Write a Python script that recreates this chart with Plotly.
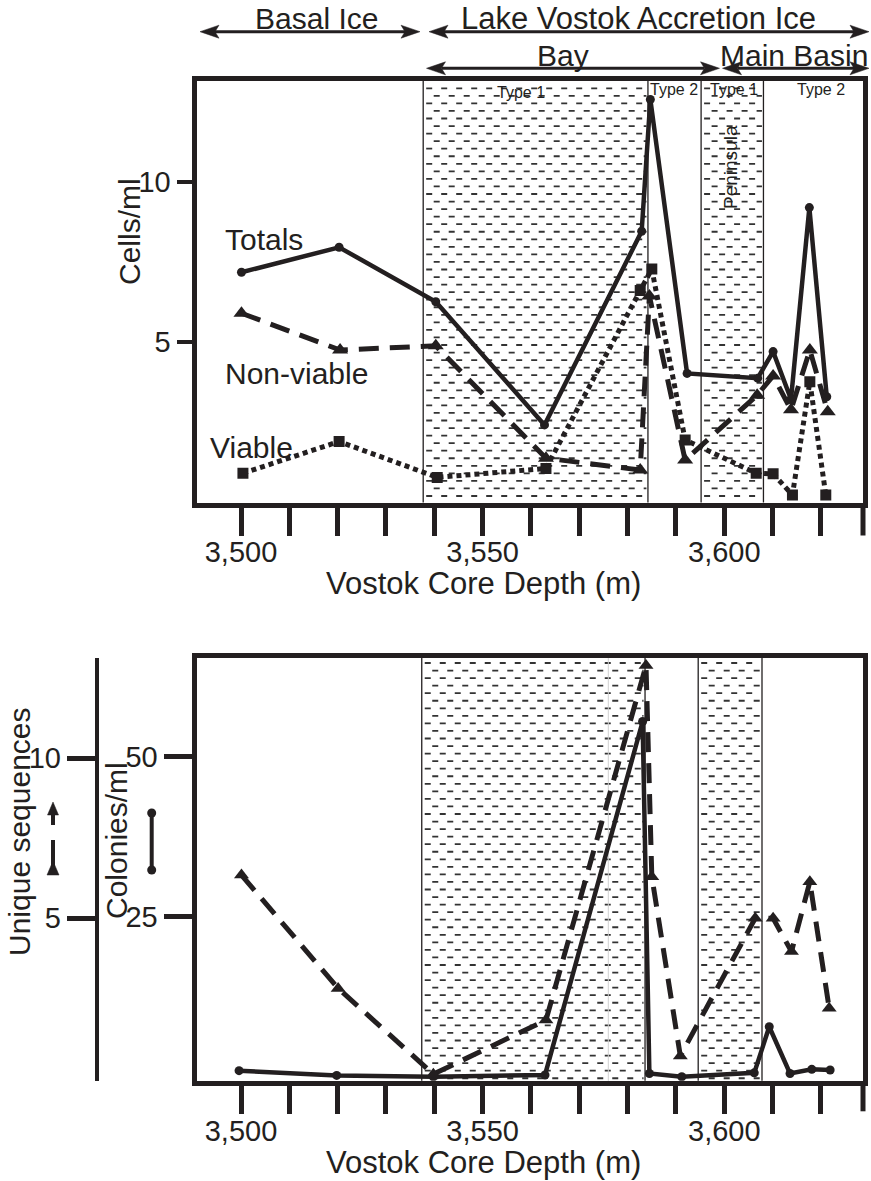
import plotly.graph_objects as go

W, H = 871, 1181
FONT = "Liberation Sans, Arial, Helvetica, sans-serif"
INK = "#231f20"

# ---------------- data ----------------
# Upper panel: cells/ml
totals_depth = [3500.1, 3520.3, 3540.3, 3562.8, 3582.9, 3584.7, 3592.3, 3606.9, 3610.1, 3613.8, 3617.6, 3621.2]
totals = [7.17, 7.95, 6.25, 2.40, 8.45, 12.57, 4.01, 3.86, 4.69, 3.20, 9.19, 3.28]

nonviable_depth = [3500.1, 3520.5, 3540.3, 3563.1, 3582.6, 3584.5, 3591.9, 3606.8, 3610.1, 3613.8, 3617.7, 3621.4]
nonviable = [5.89, 4.74, 4.87, 1.36, 0.99, 6.43, 1.30, 3.33, 3.93, 2.87, 4.74, 2.81]

viable_depth = [3500.4, 3520.3, 3540.6, 3563.1, 3582.6, 3585.0, 3591.9, 3606.6, 3610.1, 3614.1, 3617.7, 3621.0]
viable = [0.89, 1.88, 0.76, 1.04, 6.60, 7.27, 1.93, 0.89, 0.87, 0.21, 3.75, 0.21]

# Lower panel: colonies/ml and unique sequences
colonies_depth = [3499.6, 3519.8, 3539.8, 3562.9, 3583.1, 3584.5, 3591.2, 3606.2, 3609.3, 3613.6, 3618.1, 3621.9]
colonies = [0.94, 0.20, 0.0, 0.27, 55.5, 0.5, 0.0, 0.6, 7.8, 0.5, 1.15, 1.05]

unique_depth = [3500.1, 3520.1, 3539.8, 3563.1, 3583.8, 3585.0, 3590.9, 3606.4, 3610.1, 3613.9, 3617.7, 3621.7]
unique = [6.35, 2.81, 0.13, 1.82, 12.9, 6.3, 0.70, 5.0, 5.0, 3.96, 6.14, 2.19]

# zone boundaries (m): bay type1 start, bay type2 start, peninsula start, main basin start
top_zones = [3537.7, 3584.2, 3595.2, 3608.1]
bot_zones = [3537.4, 3583.6, 3594.6, 3607.8]
bot_faint_line = [3576.0]

x_tickvals = list(range(3500, 3631, 10))
x_ticktext = ["3,500" if v == 3500 else "3,550" if v == 3550 else "3,600" if v == 3600 else "" for v in x_tickvals]
cells_ticks = [5, 10]
colonies_ticks = [25, 50]
unique_ticks = [5, 10]

# ---------------- geometry helpers ----------------
def px(x):
    return x / W

def py(y):
    return 1 - y / H

# x calibration: pixel of 3500 m and pixels per metre
X_PX0, XS = 241.0, 4.833
XD = [196.5, 862.5]
x_range = [3500 + (XD[0] - X_PX0) / XS, 3500 + (XD[1] - X_PX0) / XS]

# top panel y calibration
TD = [80.5, 502.5]
T0, TS = 501.7, 32.0
top_range = [(T0 - TD[1]) / TS, (T0 - TD[0]) / TS]

# bottom panel
BD = [658.0, 1080.8]
C0, CS = 1076.7, 6.4
col_range = [(C0 - BD[1]) / CS, (C0 - BD[0]) / CS]
U0, US = 1078.3, 32.0
uni_range = [(U0 - BD[1]) / US, (U0 - BD[0]) / US]

fig = go.Figure()

# ---------------- traces ----------------
fig.add_trace(go.Scatter(x=viable_depth, y=viable, mode="lines+markers",
                         line=dict(color=INK, width=5, dash="5px,4px"),
                         marker=dict(symbol="square", size=11, color=INK),
                         xaxis="x", yaxis="y", showlegend=False))
fig.add_trace(go.Scatter(x=nonviable_depth, y=nonviable, mode="lines+markers",
                         line=dict(color=INK, width=5, dash="20px,11px"),
                         marker=dict(symbol="triangle-up", size=14, color=INK),
                         xaxis="x", yaxis="y", showlegend=False))
fig.add_trace(go.Scatter(x=totals_depth, y=totals, mode="lines+markers",
                         line=dict(color=INK, width=4.5),
                         marker=dict(symbol="circle", size=9, color=INK),
                         xaxis="x", yaxis="y", showlegend=False))

fig.add_trace(go.Scatter(x=colonies_depth, y=colonies, mode="lines+markers",
                         line=dict(color=INK, width=4.5),
                         marker=dict(symbol="circle", size=9, color=INK),
                         xaxis="x2", yaxis="y2", showlegend=False))
fig.add_trace(go.Scatter(x=unique_depth, y=unique, mode="lines+markers",
                         line=dict(color=INK, width=5, dash="20px,11px"),
                         marker=dict(symbol="triangle-up", size=13, color=INK),
                         xaxis="x2", yaxis="y3", showlegend=False))

# ---------------- shapes ----------------
shapes = []

def hatch(zones, xref, first_px, bottom_px):
    pairs = [(zones[0], zones[1]), (zones[2], zones[3])]
    y = first_px
    k = 0
    while y < bottom_px - 2:
        off = 3.0 if k % 2 == 0 else 10.5
        for a, b in pairs:
            shapes.append(dict(type="line", xref=xref, yref="paper",
                               x0=a + off / XS, x1=b - 1.5 / XS, y0=py(y), y1=py(y),
                               line=dict(color="#333333", width=1.8, dash="6px,9px"),
                               layer="below"))
        y += 7.55
        k += 1

hatch(top_zones, "x", 88.3, TD[1])
hatch(bot_zones, "x2", 663.0, BD[1])

for z in top_zones:
    shapes.append(dict(type="line", xref="x", yref="y domain", x0=z, x1=z, y0=0, y1=1,
                       line=dict(color=INK, width=1.3), layer="below"))
for z in bot_zones:
    shapes.append(dict(type="line", xref="x2", yref="y2 domain", x0=z, x1=z, y0=0, y1=1,
                       line=dict(color=INK, width=1.3), layer="below"))
for z in bot_faint_line:
    shapes.append(dict(type="line", xref="x2", yref="y2 domain", x0=z, x1=z, y0=0, y1=1,
                       line=dict(color="#d0d0d0", width=1), layer="below"))

# last tick at the right frame edge (3,630 m)
for ytop in (507.5, 1083.3):
    shapes.append(dict(type="line", xref="paper", yref="paper", x0=px(863), x1=px(863),
                       y0=py(ytop), y1=py(ytop + 28), line=dict(color=INK, width=5)))

# double-headed arrows for the header
def darrow(x0, x1, y, hl=19, hh=6.5, notch=4):
    shapes.append(dict(type="line", xref="paper", yref="paper",
                       x0=px(x0 + hl - notch), x1=px(x1 - hl + notch), y0=py(y), y1=py(y),
                       line=dict(color=INK, width=3)))
    left = (f"M{px(x0)},{py(y)} L{px(x0 + hl)},{py(y - hh)} L{px(x0 + hl - notch)},{py(y)} "
            f"L{px(x0 + hl)},{py(y + hh)} Z")
    right = (f"M{px(x1)},{py(y)} L{px(x1 - hl)},{py(y - hh)} L{px(x1 - hl + notch)},{py(y)} "
             f"L{px(x1 - hl)},{py(y + hh)} Z")
    for p in (left, right):
        shapes.append(dict(type="path", xref="paper", yref="paper", path=p,
                           fillcolor=INK, line=dict(color=INK, width=0.5)))

darrow(200, 420, 31.7)
darrow(429, 869, 31.7)
darrow(426.5, 719.5, 68.3)
darrow(722.5, 869, 68.3)

# legend glyphs beside the lower axes
def tri_up(cx, tip_y, base_y, half):
    return (f"M{px(cx)},{py(tip_y)} L{px(cx + half)},{py(base_y)} L{px(cx - half)},{py(base_y)} Z")

shapes.append(dict(type="path", xref="paper", yref="paper", path=tri_up(53, 802, 815, 5.5),
                   fillcolor=INK, line=dict(color=INK, width=0.5)))
shapes.append(dict(type="line", xref="paper", yref="paper", x0=px(53), x1=px(53),
                   y0=py(813), y1=py(825), line=dict(color=INK, width=4)))
shapes.append(dict(type="line", xref="paper", yref="paper", x0=px(53), x1=px(53),
                   y0=py(840), y1=py(866), line=dict(color=INK, width=4)))
shapes.append(dict(type="path", xref="paper", yref="paper", path=tri_up(53, 861, 875, 6),
                   fillcolor=INK, line=dict(color=INK, width=0.5)))

shapes.append(dict(type="line", xref="paper", yref="paper", x0=px(151.7), x1=px(151.7),
                   y0=py(813), y1=py(870), line=dict(color=INK, width=4)))
for cy in (813, 870):
    shapes.append(dict(type="circle", xref="paper", yref="paper",
                       x0=px(151.7 - 4.5), x1=px(151.7 + 4.5), y0=py(cy + 4.5), y1=py(cy - 4.5),
                       fillcolor=INK, line=dict(color=INK, width=0)))

# ---------------- annotations ----------------
ann = []

def text(t, x, y, size=30, angle=0, xanchor="center", family=FONT):
    ann.append(dict(text=t, x=px(x), y=py(y), xref="paper", yref="paper", showarrow=False,
                    xanchor=xanchor, yanchor="middle", textangle=angle,
                    font=dict(family=family, size=size, color=INK)))

text("Basal Ice", 316.5, 18)
text("Lake Vostok Accretion Ice", 638, 18, size=31)
text("Bay", 563, 56)
text("Main Basin", 794, 56)
text("Type 1", 521, 92, size=16)
text("Type 2", 673.5, 90, size=16)
text("Type 1", 734, 90, size=16)
text("Type 2", 821, 90, size=16)
text("Peninsula", 731, 167, size=19, angle=-90)
text("Totals", 223, 240, xanchor="left")
text("Non-viable", 223, 373, xanchor="left")
text("Viable", 208, 447, xanchor="left")
text("Cells/ml", 130, 232, angle=-90)
text("Vostok Core Depth (m)", 483, 583, size=31)
text("Vostok Core Depth (m)", 483, 1162, size=31)
text("Unique sequences", 19, 832, angle=-90)
text("Colonies/ml", 116, 841, angle=-90)

# ---------------- layout ----------------
axis_common = dict(showgrid=False, zeroline=False, showline=True, linecolor=INK,
                   tickcolor=INK, ticks="outside",
                   tickfont=dict(family=FONT, size=29, color=INK))

fig.update_layout(
    width=W, height=H, autosize=False,
    margin=dict(l=0, r=0, t=0, b=0),
    paper_bgcolor="white", plot_bgcolor="white",
    showlegend=False,
    xaxis=dict(axis_common, domain=[px(XD[0]), px(XD[1])], range=x_range, anchor="y",
               linewidth=5, mirror=True, ticklen=28, tickwidth=5, ticklabelstandoff=-8,
               tickmode="array", tickvals=x_tickvals, ticktext=x_ticktext),
    yaxis=dict(axis_common, domain=[py(TD[1]), py(TD[0])], range=top_range, anchor="x",
               linewidth=5, mirror=True, ticklen=15, tickwidth=4,
               tickmode="array", tickvals=cells_ticks),
    xaxis2=dict(axis_common, domain=[px(XD[0]), px(XD[1])], range=x_range, anchor="y2",
                linewidth=5, mirror=True, ticklen=28, tickwidth=5, ticklabelstandoff=-8,
                tickmode="array", tickvals=x_tickvals, ticktext=x_ticktext),
    yaxis2=dict(axis_common, domain=[py(BD[1]), py(BD[0])], range=col_range, anchor="x2",
                linewidth=5, mirror=True, ticklen=28, tickwidth=5,
                tickmode="array", tickvals=colonies_ticks),
    yaxis3=dict(axis_common, overlaying="y2", anchor="free", position=px(96.7), side="left",
                range=uni_range, linewidth=4, ticklen=28, tickwidth=5,
                tickmode="array", tickvals=unique_ticks),
    shapes=shapes,
    annotations=ann,
)

fig.write_html("out.html",
               config={"displayModeBar": False, "staticPlot": True},
               post_script="document.body.style.margin='0';document.body.style.overflow='hidden';")
